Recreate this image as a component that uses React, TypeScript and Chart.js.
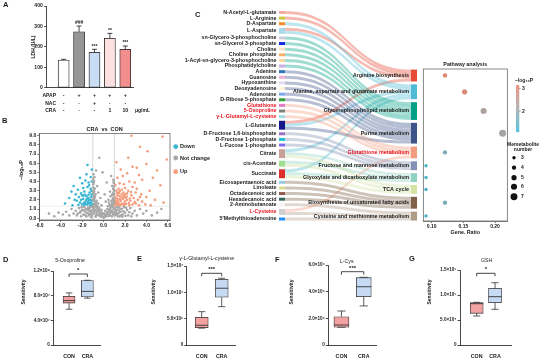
import React, { useEffect, useRef } from 'react';
import { Chart, registerables } from 'chart.js';
Chart.register(...registerables);

const FONT = '"Liberation Sans", Arial, Helvetica, sans-serif';
const INK = '#1a1a1a';

// ---------------- Panel A data ----------------
const ldhGroups = ['Control', 'APAP', 'APAP+NAC', 'APAP+CRA1', 'APAP+CRA10'];
const ldhMeans = [135, 274, 173, 242, 188];
const ldhErr = [4, 28, 15, 24, 16];
const ldhMarks = ['', '###', '***', '**', '***'];
const ldhTicks = [0, 100, 200, 300, 400];
const rowApap = ['-', '+', '+', '+', '+'];
const rowNac = ['-', '-', '+', '-', '-'];
const rowCra = ['-', '-', '-', '1', '10'];
const ldhFill = ['#ffffff', '#969696', '#c8dcf3', '#fde1e1', '#f28e8e'];

// ---------------- Panel B data (log2FC, -log10P) ----------------
const grayPts = [
  [0.02, 0.05], [-0.05, 0.12], [0.1, 0.15], [-0.15, 0.2], [0.18, 0.3], [-0.22, 0.35], [0.28, 0.42], [-0.3, 0.5],
  [0.35, 0.55], [-0.38, 0.62], [0.42, 0.7], [-0.45, 0.78], [0.5, 0.85], [-0.52, 0.92], [0.56, 1.0], [-0.6, 1.08],
  [0.63, 1.15], [-0.66, 1.25], [0.7, 1.32], [-0.72, 1.42], [0.75, 1.5], [-0.78, 1.62], [0.8, 1.7], [-0.83, 1.85],
  [0.85, 1.95], [-0.87, 2.1], [0.88, 2.2], [-0.9, 2.4], [0.9, 2.5], [-0.92, 2.7], [0.93, 2.8], [-0.94, 3.0],
  [0.95, 3.1], [-0.95, 3.35], [0.96, 3.45], [-0.96, 3.7], [0.97, 3.8], [-0.9, 4.05], [0.92, 4.2], [-0.85, 4.5],
  [-0.95, 4.8], [-0.7, 5.2], [0.7, 4.6], [-0.4, 6.6], [-0.1, 5.0], [0.3, 3.9], [-0.6, 3.5], [0.6, 2.9],
  [-0.3, 2.2], [0.2, 1.8], [-0.5, 2.8], [0.45, 2.0], [-0.75, 2.6], [0.8, 3.5], [-0.82, 3.2], [0.65, 2.4],
  [-0.65, 1.9], [0.4, 1.3], [-0.4, 1.1], [0.15, 0.8], [-0.2, 0.9], [0.3, 0.6], [-0.1, 0.4], [0.05, 0.5],
  [-0.9, 0.5], [0.9, 0.4], [-0.8, 0.9], [0.8, 0.8], [-0.95, 1.1], [0.95, 1.0], [-0.7, 0.3], [0.7, 0.6],
  [-0.55, 0.4], [0.6, 0.3], [-0.88, 1.5], [0.86, 1.4], [-0.98, 2.0], [0.99, 1.8], [-0.99, 2.9], [0.98, 2.6],
  [-0.25, 0.15], [0.25, 0.2], [-0.45, 0.3], [0.45, 0.25], [-0.65, 0.6], [0.65, 0.75], [-0.85, 0.7], [0.85, 1.2],
  [-0.35, 0.85], [0.35, 1.0], [-0.55, 1.3], [0.55, 1.45], [-0.7, 1.7], [0.72, 1.9], [-0.8, 2.3], [0.82, 2.6],
  [-0.88, 2.9], [0.9, 3.2], [-0.93, 3.9], [0.94, 4.0], [-0.97, 4.3], [0.99, 3.0], [-0.98, 1.3], [0.97, 2.1],
  [-0.15, 0.6], [0.12, 0.35], [-0.3, 0.25], [0.55, 0.5], [-0.75, 0.15], [0.78, 0.2], [-0.6, 0.8], [0.62, 0.95],
  [-0.93, 2.2], [0.93, 1.6], [-0.86, 1.2], [0.88, 0.6], [-0.5, 1.6], [0.5, 1.7], [-0.2, 1.4], [0.1, 2.6],
  [-1.1, 0.3], [-1.2, 0.8], [-1.3, 1.1], [-1.4, 0.5], [-1.5, 0.9], [-1.6, 0.2], [-1.7, 0.7], [-1.8, 1.2],
  [-1.9, 0.4], [-2.0, 0.9], [-2.2, 0.6], [-2.3, 1.1], [-2.5, 0.3], [-2.6, 0.8], [-2.8, 0.5], [-3.0, 1.0],
  [-3.2, 0.3], [-3.5, 0.7], [-3.8, 0.4], [-4.2, 0.6], [-4.6, 0.2], [-5.1, 0.5], [-1.05, 1.25], [-1.15, 0.1],
  [-1.25, 1.2], [-1.35, 0.3], [-1.45, 1.15], [-1.65, 1.0], [-2.1, 0.2], [-2.4, 0.5], [-1.1, 0.65], [-1.2, 0.45],
  [-1.3, 0.75], [-1.4, 0.95], [-1.55, 0.55], [-1.75, 0.35], [-1.85, 0.85], [-2.05, 1.2], [-2.15, 0.75], [-1.02, 0.9],
  [1.1, 0.3], [1.2, 0.9], [1.3, 0.5], [1.4, 1.2], [1.5, 0.2], [1.6, 0.7], [1.7, 1.0], [1.8, 0.4],
  [1.9, 1.2], [2.0, 0.6], [2.2, 0.9], [2.3, 0.3], [2.5, 1.1], [2.7, 0.5], [2.9, 0.8], [3.1, 0.3],
  [3.4, 1.0], [3.7, 0.5], [4.0, 0.8], [4.5, 0.3], [5.0, 0.6], [5.4, 1.0], [1.05, 1.1], [1.15, 0.6],
  [1.25, 1.25], [1.35, 0.2], [1.45, 0.8], [1.75, 0.15], [2.1, 1.15], [2.6, 0.2], [1.1, 0.75], [1.2, 0.4],
  [1.3, 0.95], [1.4, 0.55], [1.55, 1.05], [1.65, 0.35], [1.85, 0.75], [2.05, 0.25], [2.4, 0.65], [1.02, 0.5],
];
const downPts = [
  [-1.1, 1.4], [-1.3, 1.6], [-1.5, 1.5], [-1.7, 1.8], [-2.0, 1.5], [-2.2, 1.7], [-1.2, 2.0], [-1.4, 2.2],
  [-1.6, 2.4], [-1.9, 2.1], [-2.3, 2.3], [-2.5, 1.9], [-1.1, 2.6], [-1.3, 2.8], [-1.8, 2.9], [-2.1, 2.7],
  [-2.6, 2.6], [-1.2, 3.2], [-1.5, 3.4], [-1.9, 3.3], [-2.4, 3.1], [-1.4, 3.9], [-1.7, 4.1], [-2.0, 3.8],
  [-2.8, 3.5], [-1.2, 4.5], [-1.6, 4.8], [-2.2, 4.4], [-1.1, 5.3], [-1.5, 5.8], [-3.2, 2.2], [-3.6, 1.6],
  [-2.9, 1.4], [-1.05, 1.9], [-1.25, 1.35], [-1.8, 1.4], [-2.7, 2.0], [-1.6, 2.0], [-2.0, 2.5], [-1.35, 3.6],
  [-1.1, 4.0], [-1.15, 3.0], [-1.45, 1.75], [-1.75, 2.55], [-2.35, 1.45], [-3.0, 2.9], [-1.05, 1.55], [-1.2, 1.7],
  [-1.35, 1.95], [-1.5, 2.15], [-1.65, 1.55], [-1.85, 1.65], [-2.1, 2.0], [-1.15, 2.35], [-1.4, 2.55], [-1.9, 2.45],
];
const upPts = [
  [1.1, 1.4], [1.3, 1.5], [1.5, 1.4], [1.7, 1.6], [1.9, 1.45], [2.1, 1.55], [2.4, 1.4], [2.7, 1.5],
  [3.0, 1.6], [3.3, 1.4], [1.2, 1.8], [1.4, 2.0], [1.6, 1.9], [1.8, 2.1], [2.0, 1.85], [2.2, 2.0],
  [2.5, 1.9], [2.8, 2.2], [3.2, 2.0], [3.6, 1.8], [1.1, 2.3], [1.3, 2.5], [1.5, 2.4], [1.7, 2.6],
  [1.9, 2.4], [2.2, 2.7], [2.6, 2.5], [3.0, 2.8], [3.5, 2.6], [4.0, 2.3], [1.2, 3.0], [1.4, 3.2],
  [1.7, 3.1], [2.0, 3.3], [2.3, 3.0], [2.7, 3.4], [3.1, 3.2], [4.3, 3.0], [1.1, 3.6], [1.5, 3.8],
  [1.9, 3.7], [2.4, 4.0], [2.9, 3.9], [3.6, 4.2], [1.3, 4.4], [1.8, 4.6], [2.2, 4.9], [3.3, 4.7],
  [4.6, 4.4], [1.6, 5.3], [2.7, 5.6], [3.1, 5.5], [4.0, 5.9], [5.0, 5.2], [5.9, 6.4], [2.3, 6.6],
  [4.1, 7.3], [3.4, 7.8], [5.5, 8.9], [2.6, 9.0], [1.2, 6.1], [5.3, 3.6], [4.8, 2.0], [5.6, 1.7],
  [3.9, 1.5], [4.4, 1.4], [1.05, 1.7], [1.25, 2.15], [1.45, 2.75], [1.65, 1.45], [2.05, 2.2], [2.35, 1.65],
  [1.15, 1.55], [1.35, 1.75], [1.55, 2.1], [1.75, 2.3], [1.95, 1.6], [2.15, 2.35], [2.45, 2.15], [1.25, 2.75],
  [1.5, 2.95], [1.85, 2.8], [2.55, 2.85], [2.9, 1.75], [1.08, 1.95], [1.4, 1.6], [3.4, 2.3], [2.0, 2.6],
];
const volcTicksX = [-6, -4, -2, 0, 2, 4, 6];
const volcTicksY = [0, 1, 2, 3, 4, 5, 6, 7, 8, 9];

// ---------------- Panel C data ----------------
const metabolites = [
  'N-Acetyl-L-glutamate', 'L-Arginine', 'D-Aspartate', 'L-Aspartate', 'sn-Glycero-3-phosphocholine',
  'sn-Glycerol 3-phosphate', 'Choline', 'Choline phosphate', '1-Acyl-sn-glycero-3-phosphocholine',
  'Phosphatidylcholine', 'Adenine', 'Guanosine', 'Hypoxanthine', 'Deoxyadenosine', 'Adenosine',
  'D-Ribose 5-phosphate', 'Glutathione', '5-Oxoproline', 'γ-L-Glutamyl-L-cysteine', 'L-Glutamine',
  'D-Fructose 1,6-bisphosphate', 'D-Fructose 1-phosphate', 'L-Fucose 1-phosphate', 'Citrate', 'cis-Aconitate',
  'Succinate', 'Eicosapentaenoic acid', 'Linoleate', 'Octadecenoic acid', 'Hexadecanoic acid',
  '2-Aminobutanoate', 'L-Cysteine', "5'Methylthioadenosine",
];
const metaColors = [
  '#f5a9a0', '#c9c93c', '#f28a1e', '#a9d8ea', '#cfcfdc', '#1428e6', '#fde3c6', '#f8b266', '#fbd6a2',
  '#c9aee2', '#2f74b5', '#f5aed2', '#e2dbf2', '#fff1da', '#7ea6f2', '#2ea32e', '#e67ac6', '#808080',
  '#a2dbe6', '#16168a', '#9b70c6', '#1fc0d3', '#7d6cf0', '#c9a097', '#9fe08f', '#dd2d2d', '#9ecbe4',
  '#dcdc90', '#8e5a4e', '#2f6a5c', '#f3f3f3', '#cfcfcf', '#1f8fff',
];
const highlighted = ['Glutathione', '5-Oxoproline', 'γ-L-Glutamyl-L-cysteine', 'L-Cysteine', 'Glutathione metabolism'];
const pathways = [
  'Arginine biosynthesis', 'Alanine, aspartate and glutamate metabolism', 'Glycerophospholipid metabolism',
  'Purine metabolism', 'Glutathione metabolism', 'Fructose and mannose metabolism',
  'Glyoxylate and dicarboxylate metabolism', 'TCA cycle', 'Biosynthesis of unsaturated fatty acids',
  'Cysteine and methionine metabolism',
];
const pathColors = ['#e64b35', '#4dbbd5', '#00a087', '#3c5488', '#f39b7f', '#8491b4', '#91d1c2', '#d3e3a3', '#7e6148', '#b09c85'];
const argMembers = ['N-Acetyl-L-glutamate', 'L-Arginine', 'L-Aspartate', 'L-Glutamine'];
const alaMembers = ['D-Aspartate', 'L-Aspartate', 'L-Glutamine', 'Citrate', 'Succinate'];
const gplMembers = ['sn-Glycero-3-phosphocholine', 'sn-Glycerol 3-phosphate', 'Choline', 'Choline phosphate', '1-Acyl-sn-glycero-3-phosphocholine', 'Phosphatidylcholine'];
const purMembers = ['Adenine', 'Guanosine', 'Hypoxanthine', 'Deoxyadenosine', 'Adenosine', 'D-Ribose 5-phosphate', 'L-Glutamine'];
const gshMembers = ['Glutathione', '5-Oxoproline', 'γ-L-Glutamyl-L-cysteine', 'L-Cysteine'];
const fruMembers = ['D-Fructose 1,6-bisphosphate', 'D-Fructose 1-phosphate', 'L-Fucose 1-phosphate'];
const glxMembers = ['Citrate', 'cis-Aconitate', 'Succinate'];
const tcaMembers = ['Citrate', 'cis-Aconitate', 'Succinate'];
const ufaMembers = ['Eicosapentaenoic acid', 'Linoleate', 'Octadecenoic acid', 'Hexadecanoic acid'];
const cysMembers = ['L-Cysteine', '2-Aminobutanoate', "5'Methylthioadenosine"];
const pathMembers = [argMembers, alaMembers, gplMembers, purMembers, gshMembers, fruMembers, glxMembers, tcaMembers, ufaMembers, cysMembers];
const geneRatio = [0.121, 0.152, 0.182, 0.212, 0.121, 0.091, 0.091, 0.091, 0.121, 0.091];
const negLogP = [3.1, 2.9, 2.3, 2.2, 1.8, 1.35, 1.35, 1.35, 1.75, 1.3];
const ratioTicks = [0.1, 0.15, 0.2];
const sizeLegend = [3, 4, 5, 6, 7];
const colorTicks = [2, 3];

// ---------------- Panels D-G data: [min, q1, median, q3, max] ----------------
const boxGroups = ['CON', 'CRA'];
const oxoBox = [[5.8e7, 6.8e7, 7.2e7, 7.9e7, 8.45e7], [7.6e7, 7.8e7, 8.7e7, 1.045e8, 1.05e8]];
const oxoTicks = [0, 4e7, 8e7, 1.2e8];
const oxoTickLabels = ['0', '4.0×10⁷', '8.0×10⁷', '1.2×10⁸'];
const gcBox = [[3.2e6, 3.3e6, 3.75e6, 5.27e6, 6.33e6], [7.28e6, 9.07e6, 1.078e7, 1.249e7, 1.268e7]];
const gcTicks = [0, 5e6, 1e7, 1.5e7];
const gcTickLabels = ['0', '5.0×10⁶', '1.0×10⁷', '1.5×10⁷'];
const cysBox = [[1.33e5, 1.33e5, 1.5e5, 2.12e5, 2.55e5], [2.93e5, 3.62e5, 4.37e5, 5.05e5, 5.08e5]];
const cysTicks = [0, 2e5, 4e5, 6e5];
const cysTickLabels = ['0', '2.0×10⁵', '4.0×10⁵', '6.0×10⁵'];
const gshBox = [[5.8e4, 6.34e4, 8.26e4, 8.46e4, 8.54e4], [7.14e4, 8.46e4, 9.66e4, 1.134e5, 1.246e5]];
const gshTicks = [0, 5e4, 1e5, 1.5e5];
const gshTickLabels = ['0', '5.0×10⁴', '1.0×10⁵', '1.5×10⁵'];

// ---------------- helpers ----------------
function txt(ctx: CanvasRenderingContext2D, s: string, x: number, y: number, o: any = {}) {
  ctx.save();
  ctx.font = `${o.bold ? 'bold ' : ''}${o.size ?? 5.5}px ${FONT}`;
  ctx.fillStyle = o.color ?? INK;
  ctx.textAlign = o.align ?? 'center';
  ctx.textBaseline = o.base ?? 'middle';
  if (o.rot) {
    ctx.translate(x, y);
    ctx.rotate(o.rot);
    ctx.fillText(s, 0, 0);
  } else ctx.fillText(s, x, y);
  ctx.restore();
}
function line(ctx: CanvasRenderingContext2D, pts: number[][], color = INK, w = 0.8) {
  ctx.save();
  ctx.strokeStyle = color;
  ctx.lineWidth = w;
  ctx.beginPath();
  pts.forEach((p, i) => (i ? ctx.lineTo(p[0], p[1]) : ctx.moveTo(p[0], p[1])));
  ctx.stroke();
  ctx.restore();
}
const tickFont = (size = 5, bold = true) => ({ family: FONT, size, weight: bold ? 'bold' : 'normal' });
const baseOpts = {
  responsive: false,
  animation: false,
  devicePixelRatio: 1,
  events: [],
};
const noPlugins = { legend: { display: false }, tooltip: { enabled: false }, title: { display: false } };

function hexA(hex: string, a: number) {
  const n = parseInt(hex.slice(1), 16);
  return `rgba(${(n >> 16) & 255},${(n >> 8) & 255},${n & 255},${a})`;
}
function mix(c1: number[], c2: number[], t: number) {
  return c1.map((v, i) => Math.round(v + (c2[i] - v) * t));
}
function pColor(v: number) {
  const lo = [60, 184, 210], mid = [165, 165, 165], hi = [232, 128, 104];
  const t = Math.max(0, Math.min(1, (v - 1.2) / (3.15 - 1.2)));
  const c = t < 0.5 ? mix(lo, mid, t / 0.5) : mix(mid, hi, (t - 0.5) / 0.5);
  return `rgb(${c[0]},${c[1]},${c[2]})`;
}

// ---------------- Sankey layout (units) ----------------
const GAP_L = 0.9, GAP_R = 1;
function sankeyLayout() {
  const links: any[] = [];
  pathMembers.forEach((mem, t) => mem.forEach((m) => links.push({ s: metabolites.indexOf(m), t })));
  const lCount = metabolites.map((_, i) => links.filter((l) => l.s === i).length);
  const rCount = pathMembers.map((m) => m.length);
  const lTop: number[] = [];
  let y = 0;
  lCount.forEach((c, i) => { lTop[i] = y; y += c + GAP_L; });
  const total = y - GAP_L;
  const rTotal = rCount.reduce((a, b) => a + b, 0) + GAP_R * (rCount.length - 1);
  const rTop: number[] = [];
  y = total - rTotal;
  rCount.forEach((c, i) => { rTop[i] = y; y += c + GAP_R; });
  const lOff = [...lTop], rOff = [...rTop];
  const bySource = [...links].sort((a, b) => a.s - b.s || a.t - b.t);
  bySource.forEach((l) => { l.y0 = lOff[l.s]; lOff[l.s] += 1; });
  const byTarget = [...links].sort((a, b) => a.t - b.t || a.s - b.s);
  byTarget.forEach((l) => { l.y1 = rOff[l.t]; rOff[l.t] += 1; });
  return { links, lCount, rCount, lTop, rTop, total };
}
const SK = sankeyLayout();
const SK_TOP = 11, SK_BOTTOM = 220.5;
const SK_PX = (SK_BOTTOM - SK_TOP) / SK.total;

// ---------------- chart builders ----------------
function buildA() {
  return {
    type: 'bar',
    data: {
      labels: ldhGroups,
      datasets: [{
        data: ldhMeans.map((v, i) => ({ x: i, y: v })),
        backgroundColor: ldhFill,
        borderColor: INK,
        borderWidth: 0.8,
        borderSkipped: false,
        barThickness: 11,
      }],
    },
    options: {
      ...baseOpts,
      layout: { padding: { top: 6, left: 0, right: 27, bottom: 0 } },
      scales: {
        x: {
          type: 'linear', min: -1.1, max: 4.5, offset: false,
          grid: { display: false, offset: false }, border: { display: true, color: INK, width: 0.8 },
          ticks: { display: false },
          afterFit: (a: any) => { a.height = 32.3; },
        },
        y: {
          min: 0, max: 400,
          afterBuildTicks: (a: any) => { a.ticks = ldhTicks.map((v) => ({ value: v })); },
          grid: { display: true, drawOnChartArea: false, drawTicks: true, tickLength: 2.5, color: INK, lineWidth: 0.8 },
          border: { display: true, color: INK, width: 0.8 },
          ticks: { font: tickFont(5), color: INK, padding: 1.5 },
          afterFit: (a: any) => { a.width = 46.7; },
        },
      },
      plugins: noPlugins,
    },
    plugins: [{
      id: 'aExtras',
      afterDatasetsDraw(chart: any) {
        const { ctx, scales } = chart;
        const xs = scales.x, ys = scales.y;
        ldhMeans.forEach((m, i) => {
          const x = xs.getPixelForValue(i);
          const y0 = ys.getPixelForValue(m), y1 = ys.getPixelForValue(m + ldhErr[i]);
          line(ctx, [[x, y0], [x, y1]]);
          line(ctx, [[x - 2.5, y1], [x + 2.5, y1]]);
          if (ldhMarks[i]) txt(ctx, ldhMarks[i], x, y1 - 0.5, { size: 5, bold: true, base: 'bottom' });
        });
        const rows = [['APAP', rowApap, 95.3], ['NAC', rowNac, 103.3], ['CRA', rowCra, 111]] as any[];
        rows.forEach(([name, vals, y]) => {
          txt(ctx, name, 56, y, { size: 5, bold: true, align: 'right' });
          vals.forEach((v: string, i: number) => txt(ctx, v, xs.getPixelForValue(i), y, { size: 5.2, bold: true }));
        });
        txt(ctx, 'μg/mL', 135, 111, { size: 5, bold: true, align: 'left' });
        txt(ctx, 'LDH (U/L)', 33.3, 47, { size: 5, bold: true, rot: -Math.PI / 2 });
      },
    }],
  };
}

function buildB() {
  const ds = (pts: number[][], color: string, label: string) => ({
    label, data: pts.map(([x, y]) => ({ x, y })), backgroundColor: color, borderWidth: 0, pointRadius: 1.3,
  });
  const legendItems = [['Down', '#3bb6d2'], ['Not change', '#a8a8a8'], ['Up', '#f59c7c']];
  return {
    type: 'scatter',
    data: { datasets: [ds(grayPts, '#a8a8a8', 'Not change'), ds(downPts, '#3bb6d2', 'Down'), ds(upPts, '#f59c7c', 'Up')] },
    options: {
      ...baseOpts,
      layout: { padding: { top: 18.4, right: 45, left: 0, bottom: 0 } },
      scales: {
        x: {
          type: 'linear', min: -6, max: 6.2,
          afterBuildTicks: (a: any) => { a.ticks = volcTicksX.map((v) => ({ value: v })); },
          grid: { display: true, drawOnChartArea: false, drawTicks: true, tickLength: 2, color: '#444', lineWidth: 0.7 },
          border: { display: true, color: '#444', width: 0.7 },
          ticks: { font: tickFont(5), color: INK, padding: 0.5, maxRotation: 0, callback: (v: number) => v.toFixed(1) },
          afterFit: (a: any) => { a.height = 10; },
        },
        y: {
          min: -0.2, max: 9.25,
          afterBuildTicks: (a: any) => { a.ticks = volcTicksY.map((v) => ({ value: v })); },
          grid: { display: true, drawOnChartArea: false, drawTicks: true, tickLength: 2, color: '#444', lineWidth: 0.7 },
          border: { display: true, color: '#444', width: 0.7 },
          ticks: { font: tickFont(5), color: INK, padding: 1, callback: (v: number) => v.toFixed(1) },
          afterFit: (a: any) => { a.width = 39.3; },
        },
      },
      plugins: noPlugins,
    },
    plugins: [{
      id: 'bGuides',
      beforeDatasetsDraw(chart: any) {
        const { ctx, scales, chartArea: ca } = chart;
        const xs = scales.x, ys = scales.y;
        [-1, 1].forEach((v) => line(ctx, [[xs.getPixelForValue(v), ca.top], [xs.getPixelForValue(v), ca.bottom]], '#c4c4c4', 0.7));
        line(ctx, [[ca.left, ys.getPixelForValue(1.3)], [ca.right, ys.getPixelForValue(1.3)]], '#dddddd', 0.6);
      },
      afterDraw(chart: any) {
        const { ctx, chartArea: ca } = chart;
        ctx.save();
        ctx.strokeStyle = '#555';
        ctx.lineWidth = 0.7;
        ctx.strokeRect(ca.left, ca.top, ca.right - ca.left, ca.bottom - ca.top);
        ctx.restore();
        txt(ctx, 'CRA  vs  CON', (ca.left + ca.right) / 2, 14, { size: 5.5, bold: true });
        txt(ctx, '−log₁₀P', 21.7, 55, { size: 5.5, bold: true, rot: -Math.PI / 2 });
        legendItems.forEach(([name, col], i) => {
          const y = [31.7, 43, 56.7][i];
          ctx.save();
          ctx.fillStyle = col;
          ctx.beginPath();
          ctx.arc(175.7, y, 2.4, 0, Math.PI * 2);
          ctx.fill();
          ctx.restore();
          txt(ctx, name, 180, y, { size: 5.5, bold: true, align: 'left' });
        });
      },
    }],
  };
}

function buildC() {
  return {
    type: 'scatter',
    data: { datasets: [] },
    options: {
      ...baseOpts,
      layout: { padding: { left: 139, right: 5, top: SK_TOP, bottom: 230 - SK_BOTTOM } },
      scales: {
        x: { type: 'linear', min: 0, max: 1, display: false },
        y: { type: 'linear', min: 0, max: SK.total, reverse: true, display: false },
      },
      plugins: noPlugins,
    },
    plugins: [{
      id: 'sankey',
      afterDraw(chart: any) {
        const { ctx, scales } = chart;
        const xs = scales.x, ys = scales.y;
        const nodeW = 0.0435;
        const xl0 = xs.getPixelForValue(0), xl1 = xs.getPixelForValue(nodeW);
        const xr0 = xs.getPixelForValue(1 - nodeW), xr1 = xs.getPixelForValue(1);
        const xm = (xl1 + xr0) / 2;
        SK.links.forEach((l: any) => {
          const s0 = ys.getPixelForValue(l.y0), s1 = ys.getPixelForValue(l.y0 + 1);
          const t0 = ys.getPixelForValue(l.y1), t1 = ys.getPixelForValue(l.y1 + 1);
          ctx.save();
          ctx.fillStyle = hexA(pathColors[l.t], 0.38);
          ctx.beginPath();
          ctx.moveTo(xl1, s0);
          ctx.bezierCurveTo(xm, s0, xm, t0, xr0, t0);
          ctx.lineTo(xr0, t1);
          ctx.bezierCurveTo(xm, t1, xm, s1, xl1, s1);
          ctx.closePath();
          ctx.fill();
          ctx.restore();
        });
        metabolites.forEach((m, i) => {
          const y0 = ys.getPixelForValue(SK.lTop[i]), y1 = ys.getPixelForValue(SK.lTop[i] + SK.lCount[i]);
          ctx.fillStyle = metaColors[i];
          ctx.fillRect(xl0, y0, xl1 - xl0, y1 - y0);
          txt(ctx, m, xl0 - 2.5, (y0 + y1) / 2, { size: 5.3, bold: true, align: 'right', color: highlighted.includes(m) ? '#e8141e' : INK });
        });
        pathways.forEach((p, i) => {
          const y0 = ys.getPixelForValue(SK.rTop[i]), y1 = ys.getPixelForValue(SK.rTop[i] + SK.rCount[i]);
          ctx.fillStyle = pathColors[i];
          ctx.fillRect(xr0, y0, xr1 - xr0, y1 - y0);
          txt(ctx, p, xr0 - 2, (y0 + y1) / 2, { size: 5.4, bold: true, align: 'right', color: highlighted.includes(p) ? '#e8141e' : INK });
        });
      },
    }],
  };
}

const BUB_TOP = 55, BUB_LEFT = 415, BUB_H = 185;
function buildBubble() {
  const centers = pathways.map((_, i) => SK.rTop[i] + SK.rCount[i] / 2);
  const yMin = (69 - SK_TOP) / SK_PX, yMax = (221 - SK_TOP) / SK_PX;
  const rad = (n: number) => 0.4 + n * 0.44;
  return {
    type: 'bubble',
    data: {
      datasets: [{
        data: pathways.map((_, i) => ({ x: geneRatio[i], y: centers[i], r: rad(pathMembers[i].length) })),
        backgroundColor: negLogP.map(pColor),
        borderWidth: 0,
      }],
    },
    options: {
      ...baseOpts,
      layout: { padding: { left: 8.3, top: 69 - BUB_TOP, right: 135 - 92.3, bottom: 0 } },
      scales: {
        x: {
          type: 'linear', min: 0.0867, max: 0.2194,
          afterBuildTicks: (a: any) => { a.ticks = ratioTicks.map((v) => ({ value: v })); },
          grid: { display: true, drawOnChartArea: false, drawTicks: true, tickLength: 2, color: '#444', lineWidth: 0.7 },
          border: { display: true, color: '#555', width: 0.7 },
          ticks: { font: tickFont(5), color: INK, padding: 0.5, maxRotation: 0, callback: (v: number) => v.toFixed(2) },
          afterFit: (a: any) => { a.height = BUB_H - (221 - BUB_TOP); },
        },
        y: { type: 'linear', min: yMin, max: yMax, reverse: true, display: false },
      },
      plugins: noPlugins,
    },
    plugins: [{
      id: 'bubbleExtras',
      afterDraw(chart: any) {
        const { ctx, chartArea: ca } = chart;
        ctx.save();
        ctx.strokeStyle = '#555';
        ctx.lineWidth = 0.7;
        ctx.strokeRect(ca.left, ca.top, ca.right - ca.left, ca.bottom - ca.top);
        ctx.restore();
        txt(ctx, 'Pathway analysis', (ca.left + ca.right) / 2, 65 - BUB_TOP, { size: 5.3, bold: true });
        txt(ctx, 'Gene. Ratio', (ca.left + ca.right) / 2, 232.7 - BUB_TOP, { size: 5.3, bold: true });
        const cx = 516 - BUB_LEFT, top = 85 - BUB_TOP, bot = 131.7 - BUB_TOP;
        const vLo = 1.1, vHi = 3.15;
        for (let y = top; y < bot; y += 0.5) {
          const v = vHi - ((y - top) / (bot - top)) * (vHi - vLo);
          ctx.fillStyle = pColor(v);
          ctx.fillRect(cx, y, 3.2, 0.6);
        }
        txt(ctx, '−log₁₀P', 515 - BUB_LEFT, 81 - BUB_TOP, { size: 5, bold: true, align: 'left' });
        colorTicks.forEach((v) => {
          const y = bot - ((v - vLo) / (vHi - vLo)) * (bot - top);
          line(ctx, [[cx + 3.2, y], [cx + 4.5, y]], '#333', 0.5);
          txt(ctx, String(v), cx + 6, y, { size: 5, bold: true, align: 'left' });
        });
        txt(ctx, 'Memetabolite', 523 - BUB_LEFT, 145 - BUB_TOP, { size: 5, bold: true });
        txt(ctx, 'number', 523 - BUB_LEFT, 150 - BUB_TOP, { size: 5, bold: true });
        const ys = [157.7, 167.7, 177.7, 186.7, 196.7];
        sizeLegend.forEach((n, i) => {
          ctx.fillStyle = '#111';
          ctx.beginPath();
          ctx.arc(514 - BUB_LEFT, ys[i] - BUB_TOP, rad(n), 0, Math.PI * 2);
          ctx.fill();
          txt(ctx, String(n), 521 - BUB_LEFT, ys[i] - BUB_TOP, { size: 5, bold: true, align: 'left' });
        });
      },
    }],
  };
}

function buildBox(stats: number[][], ticks: number[], tickLabels: string[], title: string, sig: string, g: any) {
  const fills = ['#f3a2a2', '#c6daf3'];
  return {
    type: 'bar',
    data: {
      datasets: [{
        data: stats.map((s, i) => ({ x: i, y: [s[1], s[3]] })),
        backgroundColor: fills,
        borderColor: '#333',
        borderWidth: 0.8,
        borderSkipped: false,
        barThickness: g.bw,
      }],
    },
    options: {
      ...baseOpts,
      layout: { padding: { top: g.top, left: 0, right: g.w - g.right, bottom: 0 } },
      scales: {
        x: {
          type: 'linear', min: g.xMin, max: g.xMax, offset: false,
          afterBuildTicks: (a: any) => { a.ticks = boxGroups.map((_, i) => ({ value: i })); },
          grid: { display: false, offset: false },
          border: { display: true, color: INK, width: 0.8 },
          ticks: { font: tickFont(5.3), color: INK, padding: 0.5, maxRotation: 0, callback: (v: number) => boxGroups[v] },
          afterFit: (a: any) => { a.height = g.h - 95; },
        },
        y: {
          min: 0, max: ticks[ticks.length - 1],
          afterBuildTicks: (a: any) => { a.ticks = ticks.map((v) => ({ value: v })); },
          grid: { display: true, drawOnChartArea: false, drawTicks: true, tickLength: 2.5, color: INK, lineWidth: 0.8 },
          border: { display: true, color: INK, width: 0.8 },
          ticks: { font: tickFont(4.6), color: INK, padding: 1, callback: (v: number) => tickLabels[ticks.indexOf(v)] },
          afterFit: (a: any) => { a.width = g.left; },
        },
      },
      plugins: noPlugins,
    },
    plugins: [{
      id: 'boxExtras',
      afterDatasetsDraw(chart: any) {
        const { ctx, scales } = chart;
        const xs = scales.x, ys = scales.y;
        stats.forEach((s, i) => {
          const x = xs.getPixelForValue(i);
          const half = g.bw / 2;
          line(ctx, [[x, ys.getPixelForValue(s[3])], [x, ys.getPixelForValue(s[4])]], '#333');
          line(ctx, [[x - half * 0.55, ys.getPixelForValue(s[4])], [x + half * 0.55, ys.getPixelForValue(s[4])]], '#333');
          line(ctx, [[x, ys.getPixelForValue(s[1])], [x, ys.getPixelForValue(s[0])]], '#333');
          line(ctx, [[x - half * 0.55, ys.getPixelForValue(s[0])], [x + half * 0.55, ys.getPixelForValue(s[0])]], '#333');
          line(ctx, [[x - half, ys.getPixelForValue(s[2])], [x + half, ys.getPixelForValue(s[2])]], '#333', 0.9);
        });
        const x0 = xs.getPixelForValue(0), x1 = xs.getPixelForValue(1);
        line(ctx, [[x0, g.br + 3], [x0, g.br], [x1, g.br], [x1, g.br + 3]], INK, 0.8);
        txt(ctx, sig, (x0 + x1) / 2, g.br - 0.5, { size: 6, bold: true, base: 'bottom' });
        txt(ctx, title, g.titleX, g.titleY, { size: 5.2, bold: false });
        txt(ctx, 'Sensitivity', g.ylab, 42, { size: 5, bold: true, rot: -Math.PI / 2 });
      },
    }],
  };
}

function ChartCanvas({ x, y, w, h, build }: { x: number; y: number; w: number; h: number; build: () => any }) {
  const ref = useRef<HTMLCanvasElement>(null);
  useEffect(() => {
    const chart = new Chart(ref.current as HTMLCanvasElement, build());
    return () => chart.destroy();
  }, []);
  return <canvas ref={ref} width={w} height={h} style={{ position: 'absolute', left: x, top: y, width: w, height: h }} />;
}

const letters = [['A', 3, 1], ['B', 2, 117], ['C', 195, 11], ['D', 3, 256], ['E', 137, 255], ['F', 275, 256], ['G', 409, 255]] as const;

export default function App() {
  return (
    <div style={{ position: 'fixed', left: 0, top: 0, width: 550, height: 359, background: '#fff', overflow: 'hidden' }}>
      <ChartCanvas x={0} y={0} w={160} h={120} build={buildA} />
      <ChartCanvas x={0} y={115} w={215} h={115} build={buildB} />
      <ChartCanvas x={140} y={0} w={282} h={230} build={buildC} />
      <ChartCanvas x={BUB_LEFT} y={BUB_TOP} w={135} h={BUB_H} build={buildBubble} />
      <ChartCanvas x={0} y={250} w={135} h={109} build={() => buildBox(oxoBox, oxoTicks, oxoTickLabels, '5-Oxoproline', '*',
        { w: 135, h: 109, left: 53.3, right: 100, top: 21, xMin: -0.86, xMax: 1.69, bw: 12, br: 24, titleX: 70, titleY: 10.7, ylab: 23.3 })} />
      <ChartCanvas x={135} y={250} w={135} h={109} build={() => buildBox(gcBox, gcTicks, gcTickLabels, 'γ-L-Glutamyl-L-cysteine', '***',
        { w: 135, h: 109, left: 51.7, right: 100, top: 16, xMin: -0.75, xMax: 1.665, bw: 13, br: 23.3, titleX: 71.7, titleY: 8.3, ylab: 18.3 })} />
      <ChartCanvas x={270} y={250} w={135} h={109} build={() => buildBox(cysBox, cysTicks, cysTickLabels, 'L-Cys', '***',
        { w: 135, h: 109, left: 58.3, right: 106, top: 15, xMin: -0.59, xMax: 1.55, bw: 15, br: 21.7, titleX: 76.7, titleY: 11.7, ylab: 21.7 })} />
      <ChartCanvas x={405} y={250} w={145} h={109} build={() => buildBox(gshBox, gshTicks, gshTickLabels, 'GSH', '*',
        { w: 145, h: 109, left: 55, right: 106.7, top: 20, xMin: -0.91, xMax: 1.91, bw: 13, br: 23.3, titleX: 81.7, titleY: 10.7, ylab: 25 })} />
      {letters.map(([l, x, y]) => (
        <div key={l} style={{ position: 'absolute', left: x, top: y, font: `bold 7.5px ${FONT}`, lineHeight: 1, color: INK }}>{l}</div>
      ))}
    </div>
  );
}
